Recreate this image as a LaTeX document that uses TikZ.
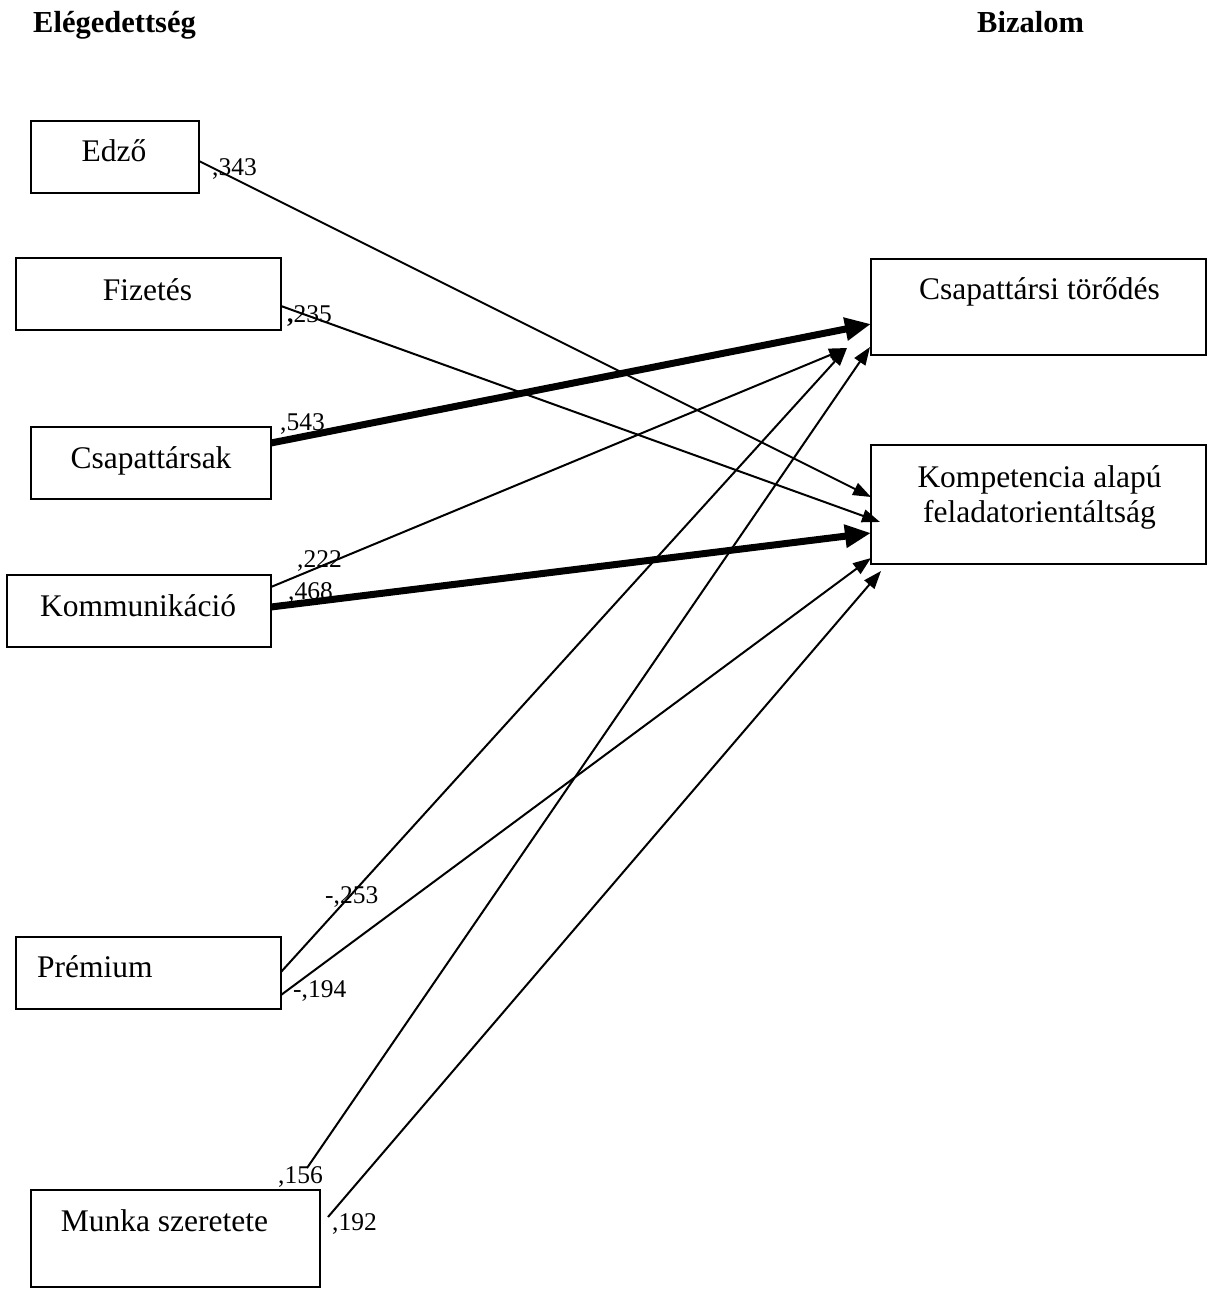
\documentclass[tikz,border=0pt]{standalone}
\usepackage{fontspec}
\setmainfont{Liberation Serif}
\usetikzlibrary{arrows.meta,calc}
\begin{document}
\begin{tikzpicture}[x=1pt,y=-1pt,
  box/.style={draw,line width=2pt,inner sep=0pt,outer sep=0pt},
  txt/.style={anchor=base,inner sep=0pt,font=\fontsize{31.5}{36}\selectfont},
  coef/.style={anchor=base west,inner sep=0pt,font=\fontsize{25.5}{30}\selectfont},
  heading/.style={anchor=base west,inner sep=0pt,font=\fontsize{30.5}{36}\selectfont\bfseries},
  link/.style={line width=2pt,-{Triangle[length=18pt,width=13pt]}},
  heavylink/.style={line width=7pt,-{Triangle[length=26pt,width=22pt]}}]

\useasboundingbox (0,0) rectangle (1208,1289);

% column headings
\node[heading] (elegedettseg) at (33,33) {Elégedettség};
\node[heading] (bizalom) at (977,33) {Bizalom};

% satisfaction factors (left column)
\node[box,minimum width=168pt,minimum height=72pt] (edzo) at (115,157) {};
\node[box,minimum width=265pt,minimum height=72pt] (fizetes) at (148.5,294) {};
\node[box,minimum width=240pt,minimum height=72pt] (csapat) at (151,463) {};
\node[box,minimum width=264pt,minimum height=72pt] (komm) at (139,611) {};
\node[box,minimum width=265pt,minimum height=72pt] (premium) at (148.5,973) {};
\node[box,minimum width=289pt,minimum height=97pt] (munka) at (175.5,1238.5) {};

% trust dimensions (right column)
\node[box,minimum width=335pt,minimum height=96pt] (torodes) at (1038.5,307) {};
\node[box,minimum width=335pt,minimum height=119pt] (kompetencia) at (1038.5,504.5) {};

% box captions
\node[txt] (tEdzo) at (114,162) {Edző};
\node[txt] (tFizetes) at (147.5,300) {Fizetés};
\node[txt] (tCsapat) at (151,468) {Csapattársak};
\node[txt] (tKomm) at (138,616) {Kommunikáció};
\node[txt,anchor=base west] (tPremium) at (37,977) {Prémium};
\node[txt] (tMunka) at (164.5,1231) {Munka szeretete};
\node[txt] (tTorodes) at (1039.5,299) {Csapattársi törődés};
\node[txt] (tKomp1) at (1039.5,487) {Kompetencia alapú};
\node[txt] (tKomp2) at (1039.5,522) {feladatorientáltság};

% path coefficients
\node[coef] (c343) at (212,176) {,343};
\node[coef] (c235) at (287,322) {\textbf{,}235};
\node[coef] (c543) at (280,430) {,543};
\node[coef] (c222) at (297,567) {,222};
\node[coef] (c468) at (288,599) {,468};
\node[coef] (c253) at (325,903) {-,253};
\node[coef] (c194) at (293,997) {-,194};
\node[coef] (c156) at (278,1183) {,156};
\node[coef] (c192) at (332,1230) {,192};

% free starting points of the two paths from "Munka szeretete"
\coordinate (m1) at (307,1168);
\coordinate (m2) at (328,1217);

% paths
\draw[link] ($(edzo.north east)+(0,40)$) -- ($(kompetencia.north west)+(0,52)$);
\draw[link] ($(fizetes.north east)+(0,48)$) -- ($(kompetencia.north west)+(9,77)$);
\draw[heavylink] ($(csapat.north east)+(0,16)$) -- ($(torodes.north west)+(0,65)$);
\draw[link] ($(komm.north east)+(0,12)$) -- ($(torodes.north west)+(-24,89)$);
\draw[heavylink] ($(komm.north east)+(0,32)$) -- ($(kompetencia.north west)+(0,88)$);
\draw[link] ($(premium.north east)+(0,35)$) -- ($(torodes.north west)+(-24,89)$);
\draw[link] ($(premium.north east)+(0,58)$) -- ($(kompetencia.north west)+(0,113)$);
\draw[link] (m1) -- ($(torodes.north west)+(-1,88)$);
\draw[link] (m2) -- ($(kompetencia.south west)+(10,7)$);

\end{tikzpicture}
\end{document}
